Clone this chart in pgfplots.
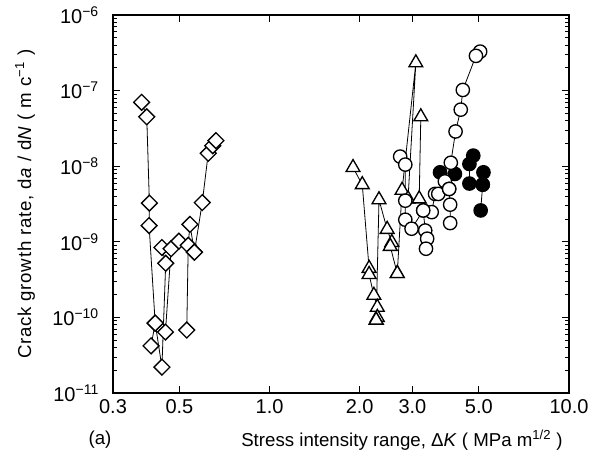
\documentclass[border=0pt]{standalone}
\usepackage{fontspec}
\setmainfont{Liberation Sans}
\usepackage{pgfplots}
\pgfplotsset{compat=1.18}
\begin{document}
\begin{tikzpicture}
\pgfplotsset{
  dia/.style={black, line width=0.6pt, mark=square*, mark size=4.2pt,
    mark options={rotate=45, fill=white, draw=black, line width=1pt}},
  tri/.style={black, line width=0.6pt, mark=triangle*, mark size=6pt,
    mark options={fill=white, draw=black, line width=1pt}},
  ocirc/.style={black, line width=0.6pt, mark=*, mark size=5pt,
    mark options={fill=white, draw=black, line width=1pt}},
  fcirc/.style={black, line width=0.6pt, mark=*, mark size=5pt,
    mark options={fill=black, draw=black, line width=1pt}},
}
\begin{axis}[name=ax, scale only axis, width=342pt, height=283.5pt,
  xmode=log, ymode=log, xmin=0.3, xmax=10, ymin=1e-11, ymax=1e-6,
  xtick={0.3,0.5,1,2,3,5,10}, xticklabels={0.3,0.5,1.0,2.0,3.0,5.0,10.0},
  ytick={1e-11,1e-10,1e-9,1e-8,1e-7,1e-6},
  yticklabels={10\textsuperscript{−11},10\textsuperscript{−10},10\textsuperscript{−9},10\textsuperscript{−8},10\textsuperscript{−7},10\textsuperscript{−6}},
  minor xtick={}, minor ytick={},
  tick align=inside, major tick length=5pt,
  tick style={black, line width=0.6pt},
  axis line style={line width=0.8pt},
  ticklabel style={font=\fontsize{15}{17}\selectfont},
  xticklabel style={yshift=-1pt},
  yticklabel style={xshift=-7pt},
  clip=false,
]
% diamonds
\addplot[dia] coordinates {(0.374,7.0e-8) (0.389,4.5e-8) (0.397,3.25e-9) (0.396,1.64e-9) (0.415,8.4e-11) (0.402,4.2e-11)};
\addplot[dia] coordinates {(0.415,8.4e-11) (0.437,2.2e-11) (0.450,5.2e-10) (0.437,8.4e-10)};
\addplot[dia] coordinates {(0.449,6.4e-11) (0.469,8.1e-10) (0.498,1.02e-9)};
\addplot[dia] coordinates {(0.529,6.8e-11) (0.535,9.0e-10) (0.542,1.70e-9) (0.561,7.3e-10)};
\addplot[dia] coordinates {(0.561,7.3e-10) (0.596,3.3e-9) (0.624,1.48e-8) (0.646,1.87e-8) (0.662,2.18e-8)};
% triangles
\addplot[tri] coordinates {(1.90,9.6e-9) (2.04,5.7e-9) (2.15,4.45e-10) (2.15,3.7e-10) (2.23,1.96e-10) (2.29,1.36e-10) (2.29,1.0e-10) (2.27,9.2e-11)};
\addplot[tri] coordinates {(2.27,9.2e-11) (2.32,3.6e-9) (2.47,1.46e-9) (2.56,9.8e-10) (2.53,8.7e-10) (2.67,3.8e-10)};
\addplot[tri] coordinates {(2.67,3.8e-10) (2.77,4.8e-9) (3.08,2.33e-7) (2.90,3.7e-9)};
\addplot[tri] coordinates {(3.16,3.7e-9) (3.20,4.5e-8)};
% filled circles
\addplot[fcirc] coordinates {(3.71,8.3e-9) (4.16,7.9e-9)};
\addplot[fcirc] coordinates {(4.79,1.38e-8) (4.65,1.07e-8) (4.65,5.9e-9) (5.15,5.7e-9) (5.18,8.3e-9)};
\addplot[fcirc] coordinates {(5.15,5.7e-9) (5.07,2.6e-9)};
% open circles
\addplot[ocirc] coordinates {(2.73,1.34e-8) (2.84,1.05e-8) (2.84,3.5e-9) (2.84,1.96e-9) (2.98,1.49e-9) (3.26,2.6e-9) (3.48,2.47e-9) (3.57,4.3e-9) (3.85,6.3e-9)};
\addplot[ocirc] coordinates {(3.26,2.6e-9) (3.31,1.41e-9) (3.36,1.10e-9) (3.33,8.1e-10)};
\addplot[ocirc] coordinates {(3.66,4.3e-9) (3.98,5.0e-9)};
\addplot[ocirc] coordinates {(5.05,3.28e-7) (4.89,2.88e-7) (4.42,1.02e-7) (4.35,5.6e-8) (4.18,2.88e-8) (4.03,1.11e-8) (3.98,5.0e-9) (4.01,3.1e-9) (4.01,1.77e-9)};
\end{axis}
\node[font=\fontsize{14}{16}\selectfont] at ([xshift=-9.75pt,yshift=-35.25pt]ax.south west) {(a)};
\node[font=\fontsize{14}{16}\selectfont] at ([xshift=45.75pt,yshift=-35.25pt]ax.south) {Stress intensity range, Δ\textit{K} ( MPa m\textsuperscript{1/2} )};
\node[rotate=90, font=\fontsize{14}{16}\selectfont\addfontfeatures{LetterSpace=4}] at ([xshift=-66pt]ax.west) {Crack growth rate, d\textit{a} / d\textit{N} ( m c\textsuperscript{−1} )};
\pgfresetboundingbox
\path ([xshift=-84.75pt,yshift=-52.5pt]ax.south west) rectangle ([xshift=23.25pt,yshift=11.25pt]ax.north east);
\end{tikzpicture}
\end{document}
